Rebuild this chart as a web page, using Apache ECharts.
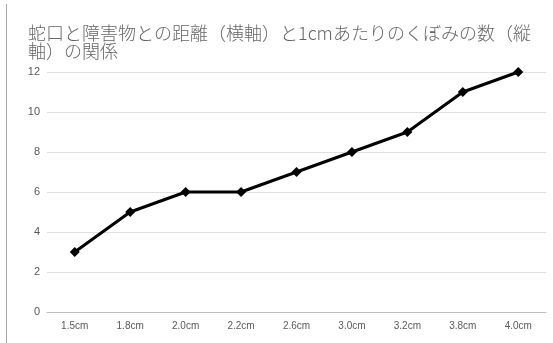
<!DOCTYPE html>
<html>
<head>
<meta charset="UTF-8">
<script src="https://cdn.jsdelivr.net/npm/echarts@6/dist/echarts.min.js"></script>
<style>
  html, body { margin: 0; padding: 0; background: #fff; }
  #main { width: 553px; height: 343px; }
</style>
</head>
<body>
<div id="main"></div>
<script>
var categories = ['1.5cm', '1.8cm', '2.0cm', '2.2cm', '2.6cm', '3.0cm', '3.2cm', '3.8cm', '4.0cm'];
var dents = [3, 5, 6, 6, 7, 8, 9, 11, 12];
var titleText = '蛇口と障害物との距離（横軸）と1cmあたりのくぼみの数（縦\n軸）の関係';

var myChart = echarts.init(document.getElementById('main'));
var option = {
  animation: false,
  title: {
    text: titleText,
    left: 23,
    top: 19,
    textStyle: {
      fontFamily: 'Noto Sans CJK JP',
      fontSize: 18,
      fontWeight: 300,
      color: '#666666',
      lineHeight: 18
    }
  },
  graphic: [{
    type: 'line',
    shape: { x1: 6.5, y1: 4, x2: 6.5, y2: 343 },
    style: { stroke: '#a6a6a6', lineWidth: 1 }
  }],
  grid: { left: 47, right: 7, top: 72, bottom: 31 },
  xAxis: {
    type: 'category',
    data: categories,
    axisLine: { lineStyle: { color: '#bfbfbf' } },
    axisTick: { show: false },
    axisLabel: { color: '#595959', fontSize: 10, fontFamily: 'Liberation Sans', margin: 9 }
  },
  yAxis: {
    type: 'value',
    min: 0,
    max: 12,
    interval: 2,
    axisLine: { show: false },
    axisTick: { show: false },
    axisLabel: { color: '#595959', fontSize: 11, fontFamily: 'Liberation Sans', margin: 7 },
    splitLine: { lineStyle: { color: '#e0e0e0' } }
  },
  series: [{
    type: 'line',
    data: dents,
    symbol: 'diamond',
    symbolSize: 10,
    lineStyle: { color: '#000', width: 3 },
    itemStyle: { color: '#000' }
  }]
};
myChart.setOption(option);
</script>
</body>
</html>
